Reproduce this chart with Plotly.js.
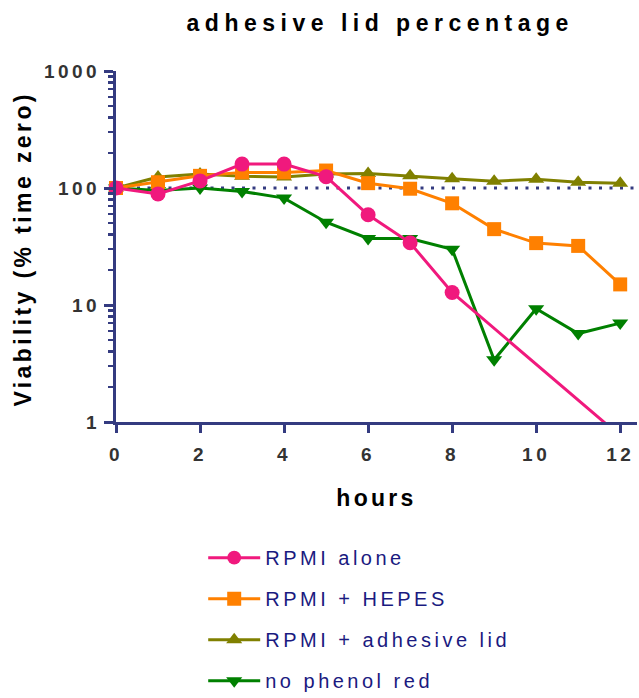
<!DOCTYPE html>
<html>
<head>
<meta charset="utf-8">
<script src="https://cdn.plot.ly/plotly-3.0.1.min.js"></script>
<style>
  html, body { margin: 0; padding: 0; background: #fff; }
  #chart { width: 639px; height: 698px; }
  .gtitle { letter-spacing: 5.5px; }
  .annotation-text { letter-spacing: 3.4px; }
  .xtitle { letter-spacing: 3.3px; }
  .xtick text, .ytick text { letter-spacing: 3.5px; }
  .legendtext { letter-spacing: 3.5px; }
</style>
</head>
<body>
<div id="chart"></div>
<script>
const hours = [0, 1, 2, 3, 4, 5, 6, 7, 8, 9, 10, 11, 12];
const seriesNames = ['RPMI alone', 'RPMI + HEPES', 'RPMI + adhesive lid', 'no phenol red'];
const rpmiAlone = [100, 89, 115, 160, 160, 125, 59, 34, 12.8, null, null, null, 0.76];
const rpmiHepes = [100, 112, 127, 136, 136, 141, 110, 98.6, 74, 44.5, 33.8, 32, 15];
const rpmiLid = [100, 124, 132, 126, 124, 132, 133, 127, 120, 114, 119, 112, 110];
const noPhenol = [100, 95, 100, 93.5, 82, 51, 37, 37, 30, 3.4, 9.3, 5.7, 7];
const yTickVals = [1, 10, 100, 1000];
const xTickVals = [0, 2, 4, 6, 8, 10, 12];
const baseline = 100;
const yTitle = 'Viability (% time zero)';

const axisColor = '#343b80';
const font = 'Liberation Sans, Arial, sans-serif';
const yMin = 1;

function mk(name, y, color, symbol, size, rank) {
  return {
    x: hours, y: y, name: name, type: 'scatter', mode: 'lines+markers',
    connectgaps: true, cliponaxis: false,
    line: { color: color, width: 3 },
    marker: { color: color, symbol: symbol, opacity: 1,
      size: y.map(v => (v === null || v >= yMin) ? size : 0),
      line: { width: 0 } },
    legendgroup: 'g' + rank, legendrank: rank
  };
}

const data = [
  mk(seriesNames[3], noPhenol, '#008000', 'triangle-down', 14, 4),
  mk(seriesNames[2], rpmiLid, '#808000', 'triangle-up', 14, 3),
  mk(seriesNames[1], rpmiHepes, '#ff8000', 'square', 14, 2),
  mk(seriesNames[0], rpmiAlone, '#f0197d', 'circle', 15, 1)
];

const layout = {
  width: 639, height: 698,
  margin: { l: 116, r: 2, t: 71, b: 276, autoexpand: false },
  paper_bgcolor: '#fff', plot_bgcolor: '#fff',
  font: { family: font, color: '#333' },
  showlegend: true,
  title: { text: 'adhesive lid percentage', font: { family: font, size: 23, color: '#000', weight: 'bold' },
    x: 0.595, xanchor: 'center', y: 0.9675, yanchor: 'middle' },
  xaxis: {
    range: [0, 12.4], tickmode: 'array', tickvals: xTickVals, ticktext: xTickVals.map(String),
    showline: true, linewidth: 3, linecolor: axisColor, zeroline: false, showgrid: false,
    ticks: 'outside', ticklen: 8, tickwidth: 3, tickcolor: axisColor,
    tickfont: { family: font, size: 19, color: '#333', weight: 'bold' }, ticklabelstandoff: 5,
    title: { text: 'hours', font: { family: font, size: 23, color: '#000', weight: 'bold' }, standoff: 27 }
  },
  yaxis: {
    type: 'log', range: [0, 3], tickmode: 'array', tickvals: yTickVals, ticktext: yTickVals.map(String),
    showline: true, linewidth: 3, linecolor: axisColor, zeroline: false, showgrid: false,
    ticks: 'outside', ticklen: 9, tickwidth: 3, tickcolor: axisColor, automargin: false,
    minor: { ticks: 'outside', ticklen: 5, tickwidth: 2.5, tickcolor: axisColor, dtick: 'D1', showgrid: false },
    tickfont: { family: font, size: 19, color: '#333', weight: 'bold' }
  },
  annotations: [{
    text: yTitle, textangle: -90, showarrow: false,
    xref: 'paper', yref: 'paper', x: -0.1785, y: 0.494, xanchor: 'center', yanchor: 'middle',
    font: { family: font, size: 23, color: '#000', weight: 'bold' }
  }],
  shapes: [{
    type: 'line', xref: 'paper', x0: 0, x1: 1, yref: 'y', y0: baseline, y1: baseline,
    line: { color: axisColor, width: 3, dash: '3px,7.5px' }, layer: 'below'
  }],
  legend: {
    xref: 'container', yref: 'container',
    x: 0.318, xanchor: 'left', y: 0.229, yanchor: 'top',
    font: { family: font, size: 20, color: '#1a1a80' }, itemwidth: 52,
    tracegroupgap: 12, traceorder: 'grouped', bgcolor: 'rgba(0,0,0,0)'
  }
};

Plotly.newPlot('chart', data, layout, { displayModeBar: false, staticPlot: true });
</script>
</body>
</html>
